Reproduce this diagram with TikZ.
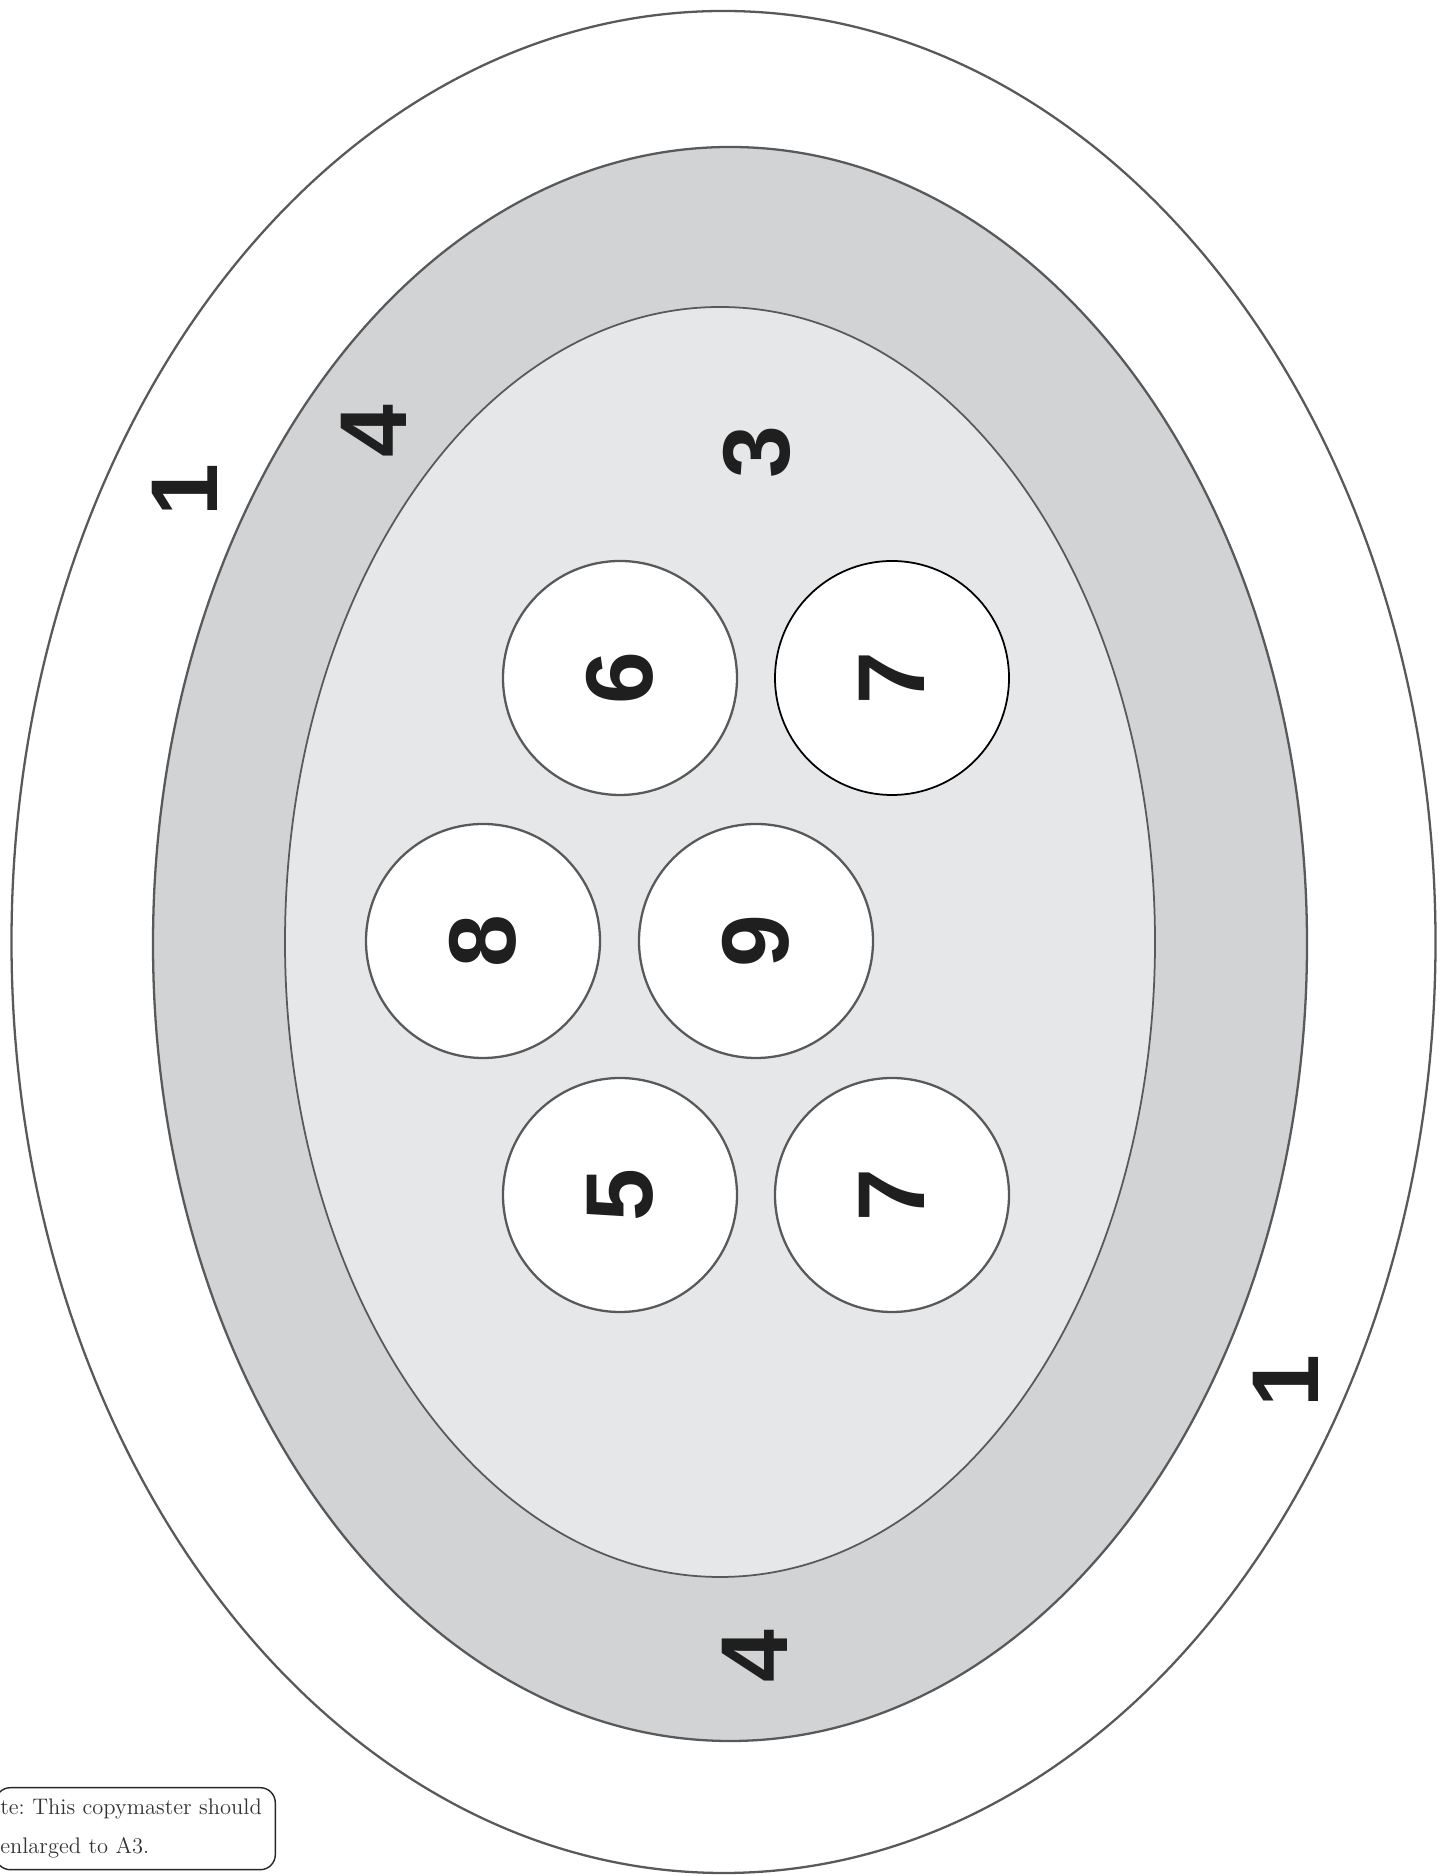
\documentclass[tikz,border=0pt]{standalone}
\usepackage{fontspec}
\usetikzlibrary{positioning}
\newfontfamily\digitfont{Liberation Sans}
\definecolor{ringgray}{RGB}{209, 211, 212}
\definecolor{palegray}{RGB}{230, 231, 232}
\definecolor{linegray}{RGB}{88, 89, 91}
\frenchspacing
\tikzset{
  zone/.style={draw=linegray, line width=1.3pt},
  disc/.style={
    circle, draw=linegray, line width=1.3pt, fill=white,
    minimum size=4.68cm, inner sep=0pt
  },
  num/.style={
    font=\digitfont\bfseries\fontsize{54}{54}\selectfont,
    text=black!88, rotate=90, inner sep=0pt
  },
  notebox/.style={
    draw=black!85, line width=0.8pt, rounded corners=0.3cm,
    font=\fontsize{12.8}{22.5}\selectfont, text=black!80,
    align=left, text width=5.4cm, inner xsep=0.1cm,
    minimum height=1.64cm
  }
}

\begin{document}
\begin{tikzpicture}
\useasboundingbox (0,0) rectangle (28.92,37.52);

% Zones
\draw[zone, fill=white] (14.47, 18.68) ellipse [x radius=14.24, y radius=18.62];
\draw[zone, fill=ringgray] (14.6, 18.64) ellipse [x radius=11.54, y radius=15.94];
\draw[zone, line width=1pt, fill=palegray] (14.4, 18.68) ellipse [x radius=8.7, y radius=12.7];

% Discs
\node[disc] (disc6) at (12.4, 23.96) {};
\node[disc, draw=black, line width=1pt] (disc7a) at (17.84, 23.96) {};
\node[disc] (disc8) at (9.66, 18.7) {};
\node[disc] (disc9) at (15.12, 18.7) {};
\node[disc] (disc5) at (12.4, 13.62) {};
\node[disc] (disc7b) at (17.84, 13.62) {};

\node[num] (lbl6) at (disc6) {6};
\node[num] (lbl7a) at (disc7a) {7};
\node[num] (lbl8) at (disc8) {8};
\node[num] (lbl9) at (disc9) {9};
\node[num] (lbl5) at (disc5) {5};
\node[num] (lbl7b) at (disc7b) {7};

% Zone numbers
\node[num] (outer1a) at (3.7, 27.72) {1};
\node[num] (outer1b) at (25.72, 9.9) {1};
\node[num] (ring4a) at (7.48, 28.9) {4};
\node[num] (ring4b) at (15.1, 4.4) {4};
\node[num] (inner3) at (15.14, 28.48) {3};

% Note
\node[notebox, anchor=north east] (note) at (5.52, 1.78) {te: This copymaster should\\enlarged to A3.};

\end{tikzpicture}
\end{document}
